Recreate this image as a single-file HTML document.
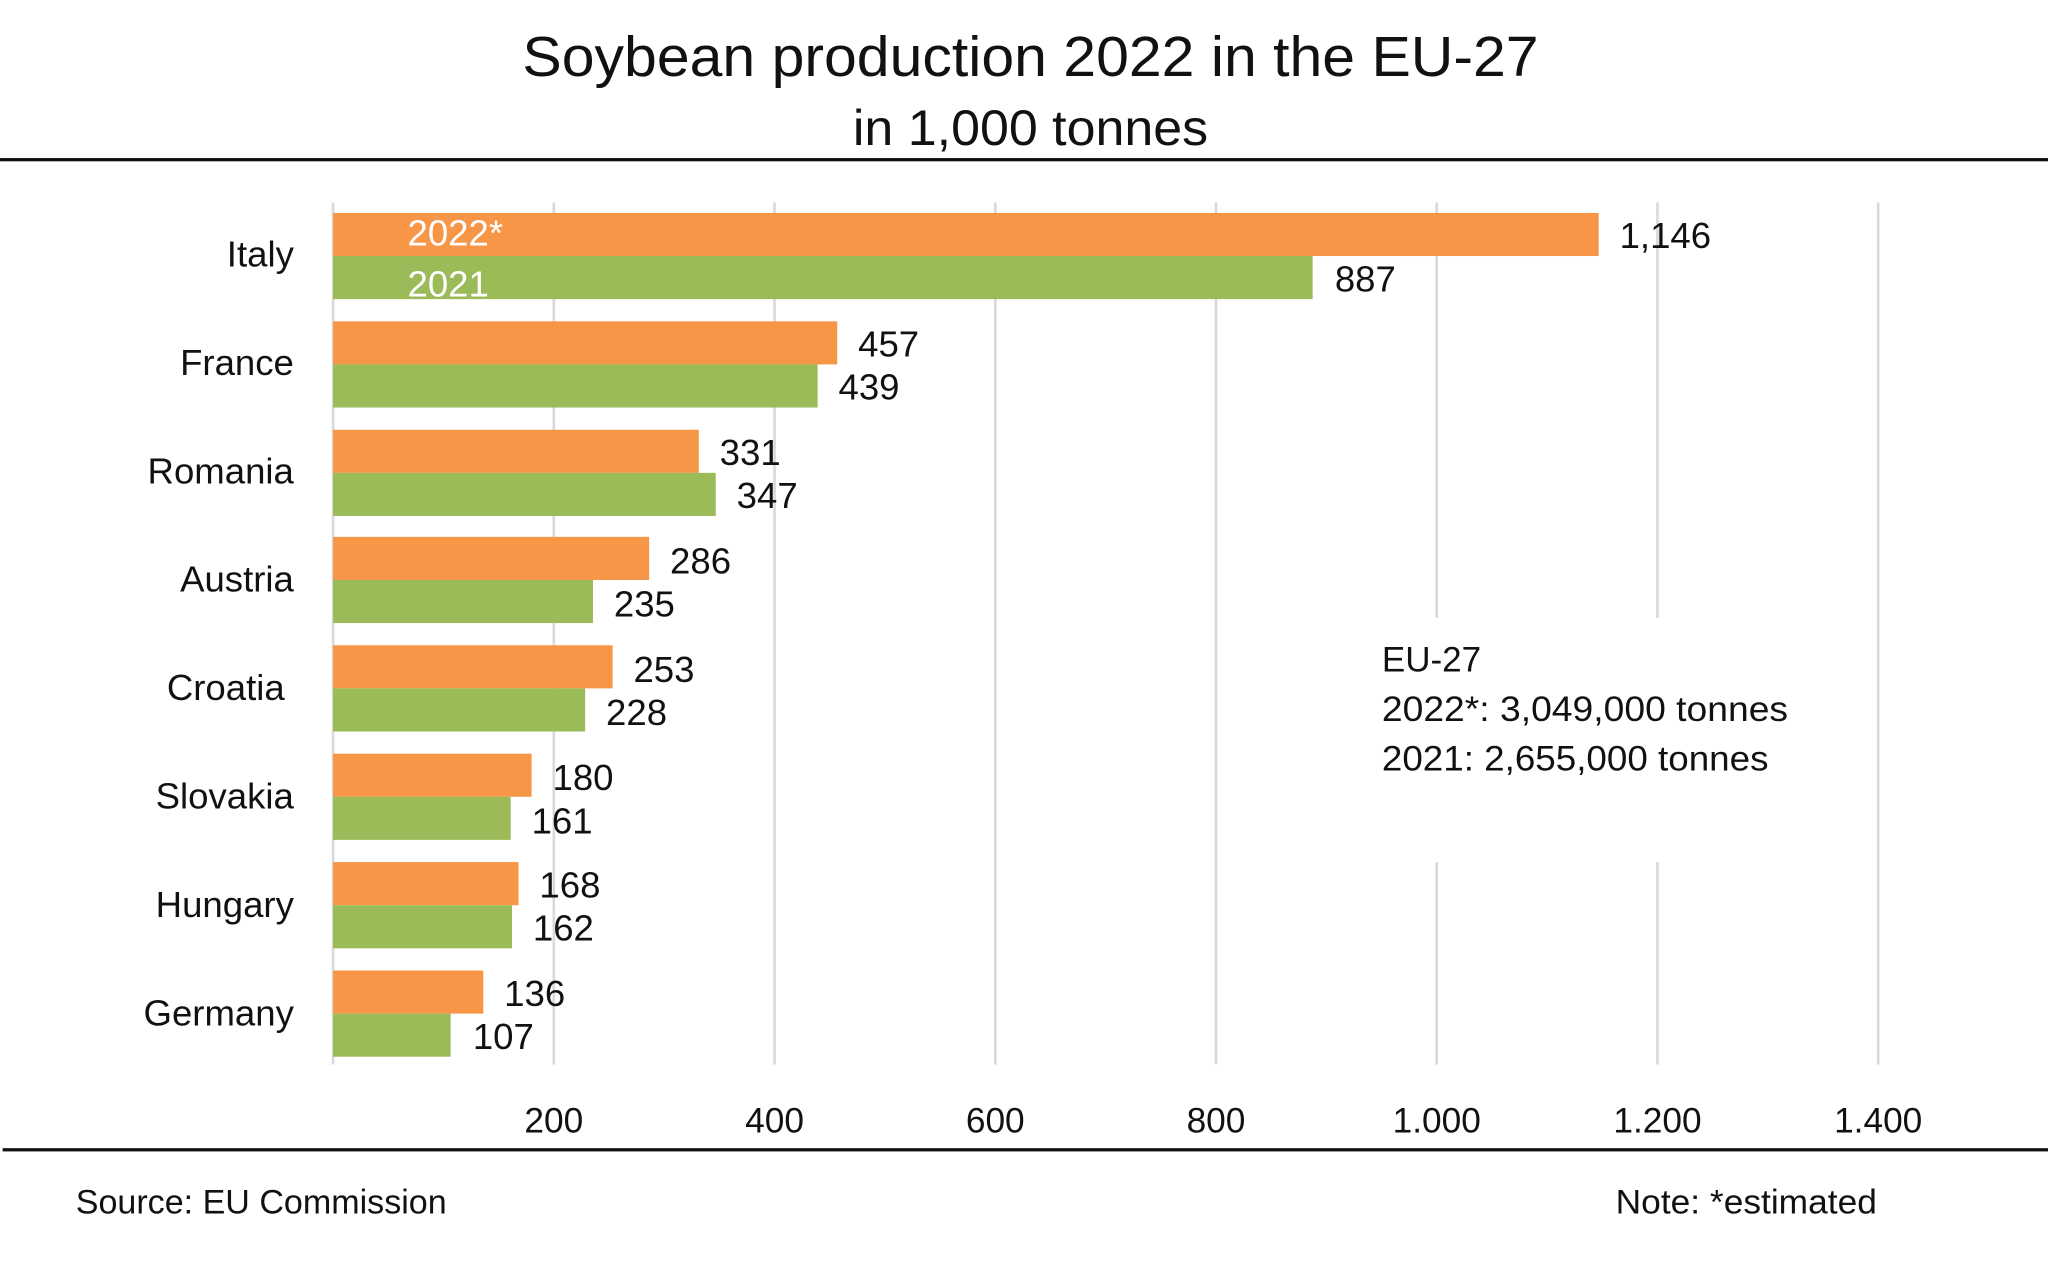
<!DOCTYPE html>
<html><head><meta charset="utf-8"><style>
html,body{margin:0;padding:0;background:#fff}
svg{display:block}
text{font-family:"Liberation Sans",sans-serif;fill:#111}
</style></head><body>
<svg width="2048" height="1284" viewBox="0 0 1568 983" preserveAspectRatio="none" xmlns="http://www.w3.org/2000/svg">
<text x="789" y="58" font-size="43" text-anchor="middle" textLength="778" lengthAdjust="spacingAndGlyphs">Soybean production 2022 in the EU-27</text>
<text x="789" y="111" font-size="38" text-anchor="middle" textLength="272" lengthAdjust="spacingAndGlyphs">in 1,000 tonnes</text>
<rect x="0" y="121" width="1568" height="2.5" fill="#111"/>
<g stroke="#d9d9d9" stroke-width="2">
<line x1="255" y1="155" x2="255" y2="815"/>
<line x1="424" y1="155" x2="424" y2="815"/>
<line x1="593" y1="155" x2="593" y2="815"/>
<line x1="762" y1="155" x2="762" y2="815"/>
<line x1="931" y1="155" x2="931" y2="815"/>
<line x1="1100" y1="155" x2="1100" y2="473"/><line x1="1100" y1="660" x2="1100" y2="815"/>
<line x1="1269" y1="155" x2="1269" y2="473"/><line x1="1269" y1="660" x2="1269" y2="815"/>
<line x1="1438" y1="155" x2="1438" y2="815"/>
</g>
<g font-size="28">
<rect x="255" y="163" width="969" height="33" fill="#f79646"/><rect x="255" y="196" width="750" height="33" fill="#9bbb59"/>
<text x="312" y="188" style="fill:#fff">2022*</text><text x="312" y="227" style="fill:#fff">2021</text>
<text x="1240" y="190">1,146</text><text x="1022" y="223">887</text>
<rect x="255" y="246" width="386" height="33" fill="#f79646"/><rect x="255" y="279" width="371" height="33" fill="#9bbb59"/>
<text x="657" y="273">457</text><text x="642" y="306">439</text>
<rect x="255" y="329" width="280" height="33" fill="#f79646"/><rect x="255" y="362" width="293" height="33" fill="#9bbb59"/>
<text x="551" y="356">331</text><text x="564" y="389">347</text>
<rect x="255" y="411" width="242" height="33" fill="#f79646"/><rect x="255" y="444" width="199" height="33" fill="#9bbb59"/>
<text x="513" y="439">286</text><text x="470" y="472">235</text>
<rect x="255" y="494" width="214" height="33" fill="#f79646"/><rect x="255" y="527" width="193" height="33" fill="#9bbb59"/>
<text x="485" y="522">253</text><text x="464" y="555">228</text>
<rect x="255" y="577" width="152" height="33" fill="#f79646"/><rect x="255" y="610" width="136" height="33" fill="#9bbb59"/>
<text x="423" y="605">180</text><text x="407" y="638">161</text>
<rect x="255" y="660" width="142" height="33" fill="#f79646"/><rect x="255" y="693" width="137" height="33" fill="#9bbb59"/>
<text x="413" y="687">168</text><text x="408" y="720">162</text>
<rect x="255" y="743" width="115" height="33" fill="#f79646"/><rect x="255" y="776" width="90" height="33" fill="#9bbb59"/>
<text x="386" y="770">136</text><text x="362" y="803">107</text>
</g>
<g font-size="28" text-anchor="end">
<text x="225" y="204">Italy</text>
<text x="225" y="287">France</text>
<text x="225" y="370">Romania</text>
<text x="225" y="453">Austria</text>
<text x="218" y="536">Croatia</text>
<text x="225" y="619">Slovakia</text>
<text x="225" y="702">Hungary</text>
<text x="225" y="785">Germany</text>
</g>
<g font-size="27" text-anchor="middle">
<text x="424" y="867">200</text><text x="593" y="867">400</text><text x="762" y="867">600</text><text x="931" y="867">800</text>
<text x="1100" y="867">1.000</text><text x="1269" y="867">1.200</text><text x="1438" y="867">1.400</text>
</g>
<g font-size="27">
<text x="1058" y="514" textLength="76" lengthAdjust="spacingAndGlyphs">EU-27</text>
<text x="1058" y="552" textLength="311" lengthAdjust="spacingAndGlyphs">2022*: 3,049,000 tonnes</text>
<text x="1058" y="590" textLength="296" lengthAdjust="spacingAndGlyphs">2021: 2,655,000 tonnes</text>
</g>
<rect x="2" y="879" width="1566" height="2.5" fill="#111"/>
<text x="58" y="929" font-size="26" textLength="284" lengthAdjust="spacingAndGlyphs">Source:  EU Commission</text>
<text x="1237" y="929" font-size="26" textLength="200" lengthAdjust="spacingAndGlyphs">Note: *estimated</text>
</svg>
</body></html>
